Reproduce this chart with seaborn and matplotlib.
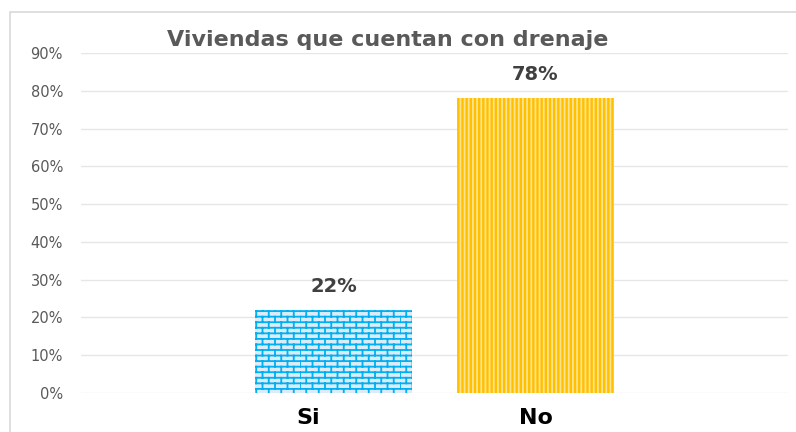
import warnings
warnings.filterwarnings("ignore")
import numpy as np
import pandas as pd
import matplotlib
matplotlib.use("Agg")
import matplotlib.pyplot as plt
from matplotlib import hatch as mhatch
from matplotlib.path import Path
from matplotlib.patches import Rectangle
from matplotlib.transforms import ScaledTranslation
import seaborn as sns

# ---- data ----
categories = ["Si", "No"]
values = [0.22, 0.78]
yticks = [0, 0.1, 0.2, 0.3, 0.4, 0.5, 0.6, 0.7, 0.8, 0.9]
ytick_labels = ["0%", "10%", "20%", "30%", "40%", "50%", "60%", "70%", "80%", "90%"]
title = "Viviendas que cuentan con drenaje"


# ---- custom brick hatch ('b') ----
class BrickHatch(mhatch.HatchPatternBase):
    def __init__(self, hatch, density):
        k = hatch.count('b')
        self.rows = 18 * k
        self.cols = 8 * k
        self.num_vertices = (self.rows * 2 + self.rows * self.cols * 2) if k else 0

    def set_vertices_and_codes(self, vertices, codes):
        i = 0
        for r in range(self.rows):
            y0 = r / self.rows
            y1 = (r + 1) / self.rows
            vertices[i] = (0, y0); codes[i] = Path.MOVETO; i += 1
            vertices[i] = (1, y0); codes[i] = Path.LINETO; i += 1
            off = 0.5 * (r % 2)
            for c in range(self.cols):
                x = (c + off) / self.cols
                vertices[i] = (x, y0); codes[i] = Path.MOVETO; i += 1
                vertices[i] = (x, y1); codes[i] = Path.LINETO; i += 1


mhatch._hatch_types.append(BrickHatch)

sns.set_theme(style="white")
plt.rcParams['font.family'] = ['DejaVu Sans']
plt.rcParams['hatch.linewidth'] = 1.3

fig = plt.figure(figsize=(7.96, 4.32), dpi=100)
ax = fig.add_axes([81 / 796, 1 - 393 / 432, (788 - 81) / 796, (393 - 53) / 432])

df = pd.DataFrame({"cat": categories, "val": values})
sns.barplot(data=df, x="cat", y="val", hue="cat", palette=["#DCEBF8", "#FFC000"],
            width=0.78, legend=False, ax=ax, saturation=1)

styles = {
    0: dict(face="#DCEBF8", edge="#00B0F0", hatch="b"),
    1: dict(face="#FFC000", edge="#FFE38F", hatch="||||"),
}
for i, p in enumerate(ax.patches):
    s = styles[i]
    p.set_facecolor(s["face"])
    p.set_edgecolor(s["edge"])
    p.set_hatch(s["hatch"])
    p.set_linewidth(0)

for c in ax.containers:
    ax.bar_label(c, fmt=lambda v: f"{v:.0%}", padding=10, fontsize=14,
                 fontweight="bold", color="#404040")

ax.set_ylim(0, 0.9)
ax.set_xlim(-1.25, 2.25)
ax.set_yticks(yticks)
ax.set_yticklabels(ytick_labels, fontsize=10.5, color="#595959")
ax.tick_params(axis="y", length=0, pad=13)
ax.tick_params(axis="x", length=0, pad=11)
xt = ax.get_xticklabels()
for lbl in xt:
    lbl.set_fontsize(16)
    lbl.set_fontweight("bold")
    lbl.set_color("black")
xt[0].set_transform(xt[0].get_transform() + ScaledTranslation(-0.25, 0, fig.dpi_scale_trans))
ax.set_xlabel("")
ax.set_ylabel("")
ax.grid(axis="y", color="#E6E6E6", linewidth=1)
ax.set_axisbelow(True)
for sp in ax.spines.values():
    sp.set_visible(False)

fig.text(388 / 796, 1 - 46 / 432, title, ha="center", va="baseline",
         fontsize=16, fontweight="bold", color="#595959")

border = Rectangle((10 / 796, -0.2), 1.2, (432 - 12) / 432 + 0.2,
                   transform=fig.transFigure, fill=False, edgecolor="#D9D9D9",
                   linewidth=1.2, clip_on=False)
fig.patches.append(border)

fig.savefig("out.png", dpi=100)
